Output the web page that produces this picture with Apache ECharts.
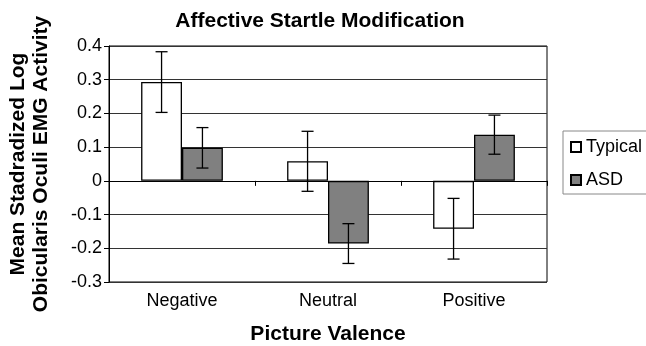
<!DOCTYPE html>
<html>
<head>
<meta charset="utf-8">
<script src="https://cdn.jsdelivr.net/npm/echarts@6/dist/echarts.min.js"></script>
<style>
  html, body { margin: 0; padding: 0; background: #fff; }
  #chart { width: 646px; height: 346px; }
</style>
</head>
<body>
<div id="chart"></div>
<script>
var categories = ['Negative', 'Neutral', 'Positive'];
var typicalMeans = [0.293, 0.058, -0.142];
var typicalErr = [0.09, 0.089, 0.09];
var asdMeans = [0.098, -0.186, 0.137];
var asdErr = [0.06, 0.059, 0.058];
var yMin = -0.3, yMax = 0.4, yStep = 0.1;

var font = 'Liberation Sans, Arial, sans-serif';
var gapPct = 44;

// error bars: side -1 = left bar, +1 = right bar
function errorSeries(name, means, errs, side) {
    return {
        name: name + ' err',
        type: 'custom',
        xAxisIndex: 0,
        z: 5,
        data: means.map(function (m, i) { return [i, m - errs[i], m + errs[i]]; }),
        renderItem: function (params, api) {
            var band = api.size([1, 0])[0];
            var off = side * band * (1 - gapPct / 100) / 4;
            var lo = api.coord([api.value(0), api.value(1)]);
            var hi = api.coord([api.value(0), api.value(2)]);
            var x = lo[0] + off, cap = 6;
            var st = { stroke: '#000', lineWidth: 1.3 };
            return {
                type: 'group',
                children: [
                    { type: 'line', shape: { x1: x, y1: lo[1], x2: x, y2: hi[1] }, style: st },
                    { type: 'line', shape: { x1: x - cap, y1: lo[1], x2: x + cap, y2: lo[1] }, style: st },
                    { type: 'line', shape: { x1: x - cap, y1: hi[1], x2: x + cap, y2: hi[1] }, style: st }
                ]
            };
        }
    };
}

var chart = echarts.init(document.getElementById('chart'));
var option = {
    animation: false,
    backgroundColor: '#fff',
    textStyle: { fontFamily: font },
    title: {
        text: 'Affective Startle Modification',
        left: 315,
        textAlign: 'center',
        top: 6,
        textStyle: { fontFamily: font, fontSize: 21, fontWeight: 'bold', color: '#000' }
    },
    legend: {
        orient: 'vertical',
        left: 563,
        top: 131,
        padding: [7, 20, 5, 7],
        itemGap: 15,
        itemWidth: 10,
        itemHeight: 10,
        icon: 'rect',
        borderColor: '#888',
        borderWidth: 1,
        data: ['Typical', 'ASD'],
        textStyle: { fontFamily: font, fontSize: 18, color: '#000' }
    },
    grid: {
        left: 109, right: 99, top: 46, bottom: 64,
        outerBoundsMode: 'none',
        containLabel: false,
        show: true, borderColor: '#000', borderWidth: 1
    },
    xAxis: [{
        type: 'category',
        data: categories,
        axisLine: { onZero: true, lineStyle: { color: '#000' } },
        axisTick: { show: true, length: 5, lineStyle: { color: '#000' } },
        axisLabel: { show: false },
        splitLine: { show: false }
    }, {
        type: 'category',
        data: categories,
        position: 'bottom',
        axisLine: { show: false },
        axisTick: { show: false },
        axisLabel: { margin: 10, fontFamily: font, fontSize: 18, color: '#000' },
        name: 'Picture Valence',
        nameLocation: 'middle',
        nameGap: 42,
        nameTextStyle: { fontFamily: font, fontSize: 21, fontWeight: 'bold', color: '#000' }
    }],
    yAxis: {
        type: 'value',
        min: yMin, max: yMax, interval: yStep,
        axisLine: { show: true, lineStyle: { color: '#000' } },
        axisTick: { show: true, length: 5, lineStyle: { color: '#000' } },
        axisLabel: {
            margin: 7, fontFamily: font, fontSize: 18, color: '#000',
            formatter: function (v) { return String(Math.round(v * 10) / 10); }
        },
        splitLine: { lineStyle: { color: '#333', width: 1 } },
        name: 'Mean Stadradized Log\nObicularis Oculi EMG Activity',
        nameLocation: 'middle',
        nameGap: 56,
        nameTextStyle: { fontFamily: font, fontSize: 21, fontWeight: 'bold', color: '#000', lineHeight: 23 }
    },
    series: [{
        name: 'Typical',
        type: 'bar',
        data: typicalMeans,
        barGap: '0%',
        barCategoryGap: gapPct + '%',
        itemStyle: { color: '#fff', borderColor: '#000', borderWidth: 1.3 }
    }, {
        name: 'ASD',
        type: 'bar',
        data: asdMeans,
        barGap: '0%',
        barCategoryGap: gapPct + '%',
        itemStyle: { color: '#808080', borderColor: '#000', borderWidth: 1.3 }
    },
    errorSeries('Typical', typicalMeans, typicalErr, -1),
    errorSeries('ASD', asdMeans, asdErr, 1)]
};
chart.setOption(option);
</script>
</body>
</html>
